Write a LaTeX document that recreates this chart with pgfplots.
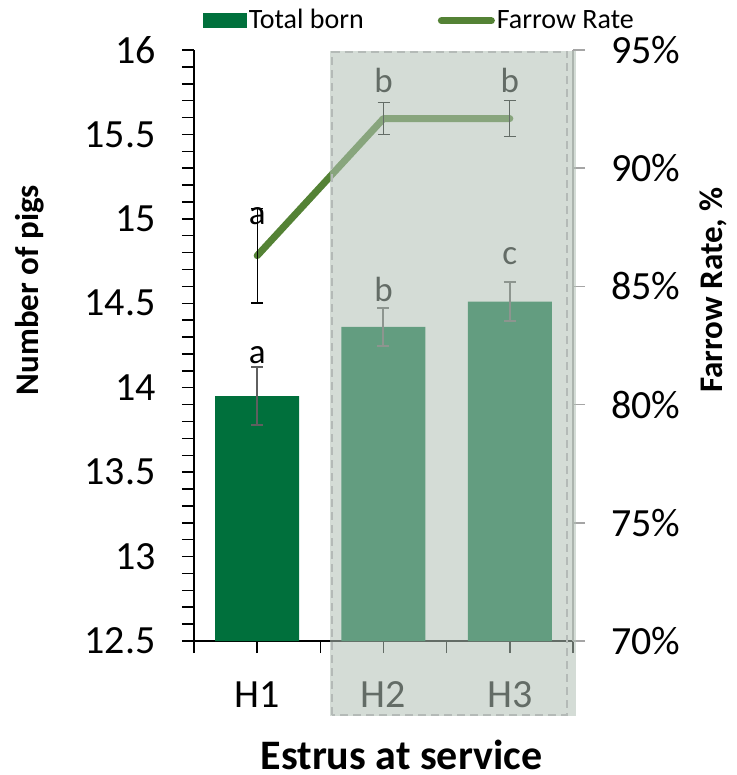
\documentclass[border=0pt]{standalone}
\usepackage{pgfplots}
\pgfplotsset{compat=1.18}
\usepackage{pgfplotstable}
\usepackage{fontspec}
\setmainfont{Carlito}

\definecolor{barGreen}{RGB}{0,112,60}
\definecolor{lineGreen}{RGB}{84,130,53}
\definecolor{ovShade}{RGB}{178,193,182}
\definecolor{dashGray}{RGB}{180,186,183}
\definecolor{errGray}{RGB}{95,95,95}
\definecolor{axGray}{RGB}{165,165,165}

% total born (left axis)
\pgfplotstableread{
x y err
1 13.95 0.17
2 14.36 0.115
3 14.51 0.117
}\bornTable
% farrow rate (right axis)
\pgfplotstableread{
x y err
1 86.3 2.0
2 92.1 0.68
3 92.1 0.76
}\rateTable

\begin{document}
\begin{tikzpicture}
\pgfplotsset{
  base/.style={
    scale only axis, width=189.5pt, height=295.5pt,
    xmin=0.5, xmax=3.5,
    /pgf/number format/assume math mode=true,
    tick label style={font=\fontsize{20}{24}\selectfont, inner sep=0pt},
    label style={font=\bfseries\fontsize{16.5}{20}\selectfont},
    major tick length=6pt, minor tick length=6pt,
    tick align=outside,
    axis line style={line width=0.75pt},
    tick style={line width=0.75pt, black},
  },
}
\begin{axis}[base,
  axis x line*=bottom, axis y line*=left,
  ymin=12.5, ymax=16,
  ytick={12.5,13,13.5,14,14.5,15,15.5,16},
  minor y tick num=4,
  xtick={1,2,3}, xticklabels={H1,H2,H3},
  minor xtick={0.5,1.5,2.5,3.5},
  xticklabel style={anchor=north, yshift=-14pt},
  yticklabel style={anchor=east, xshift=-13pt},
  xlabel={Estrus at service},
  xlabel style={font=\bfseries\fontsize{21}{25}\selectfont, inner sep=0pt,
    at={(axis description cs:0.5475,-0.193)}, anchor=center},
  ylabel={Number of pigs},
  ylabel style={at={(axis description cs:-0.4327,0.5939)}, anchor=center},
]
\addplot[ybar, bar width=42pt, fill=barGreen, draw=none,
  error bars/.cd, y dir=both, y explicit,
  error bar style={line width=1pt, errGray},
  error mark options={rotate=90, mark size=3pt, line width=1pt, errGray}]
  table[x=x, y=y, y error=err] {\bornTable};
\node[font=\fontsize{17.5}{20}\selectfont, anchor=base] at (axis cs:1,14.146) {a};
\node[font=\fontsize{17.5}{20}\selectfont, anchor=base] at (axis cs:2,14.508) {b};
\node[font=\fontsize{17.5}{20}\selectfont, anchor=base] at (axis cs:3,14.727) {c};
\coordinate (ovA) at (axis cs:1.577,12.056);
\coordinate (ovB) at (axis cs:3.524,15.995);
\coordinate (dA) at (axis cs:1.593,12.062);
\coordinate (dB) at (axis cs:3.453,15.99);
\end{axis}

\begin{axis}[base,
  hide x axis, axis y line*=right,
  ymin=70, ymax=95, ytick={70,75,80,85,90,95},
  yticklabel={\pgfmathprintnumber{\tick}\%},
  yticklabel style={anchor=west, xshift=13pt},
  y axis line style={axGray, line width=0.8pt},
  ytick style={axGray, line width=0.8pt},
  ylabel={Farrow Rate, \%},
  ylabel style={at={(axis description cs:1.3694,0.5939)}, anchor=center},
  legend columns=2,
  legend style={draw=none, fill=none, inner sep=0pt, outer sep=0pt,
    at={(axis description cs:0.0237,1.0495)}, anchor=west,
    font=\fontsize{14}{16}\selectfont,
    nodes={inner sep=1pt},
    /tikz/every even column/.append style={column sep=36pt}},
]
\addlegendimage{legend image code/.code={\fill[barGreen] (0pt,-3.5pt) rectangle (21.5pt,3.5pt);}}
\addlegendentry{Total born}
\addplot[lineGreen, line width=3.5pt, line cap=round, line join=round, mark=none,
  legend image code/.code={\draw[lineGreen, line width=3.5pt, line cap=round] (0pt,0pt) -- (25pt,0pt);},
  error bars/.cd, y dir=both, y explicit,
  error bar style={line width=0.6pt, black, line cap=butt},
  error mark options={rotate=90, mark size=3pt, line width=0.6pt, black}]
  table[x=x, y=y, y error=err] {\rateTable};
\addlegendentry{Farrow Rate}
\node[font=\fontsize{17.5}{20}\selectfont, anchor=base] at (axis cs:1,87.6) {a};
\node[font=\fontsize{17.5}{20}\selectfont, anchor=base] at (axis cs:2,93.22) {b};
\node[font=\fontsize{17.5}{20}\selectfont, anchor=base] at (axis cs:3,93.22) {b};
\end{axis}

% highlighted H2-H3 region
\fill[ovShade, opacity=0.56] (ovA) rectangle (ovB);
\draw[dashGray, line width=1pt, dash pattern=on 4pt off 2.5pt] (dA) rectangle (dB);

\pgfresetboundingbox
\path[use as bounding box] (-97pt,-67pt) rectangle (271.5pt,320.5pt);
\end{tikzpicture}
\end{document}
